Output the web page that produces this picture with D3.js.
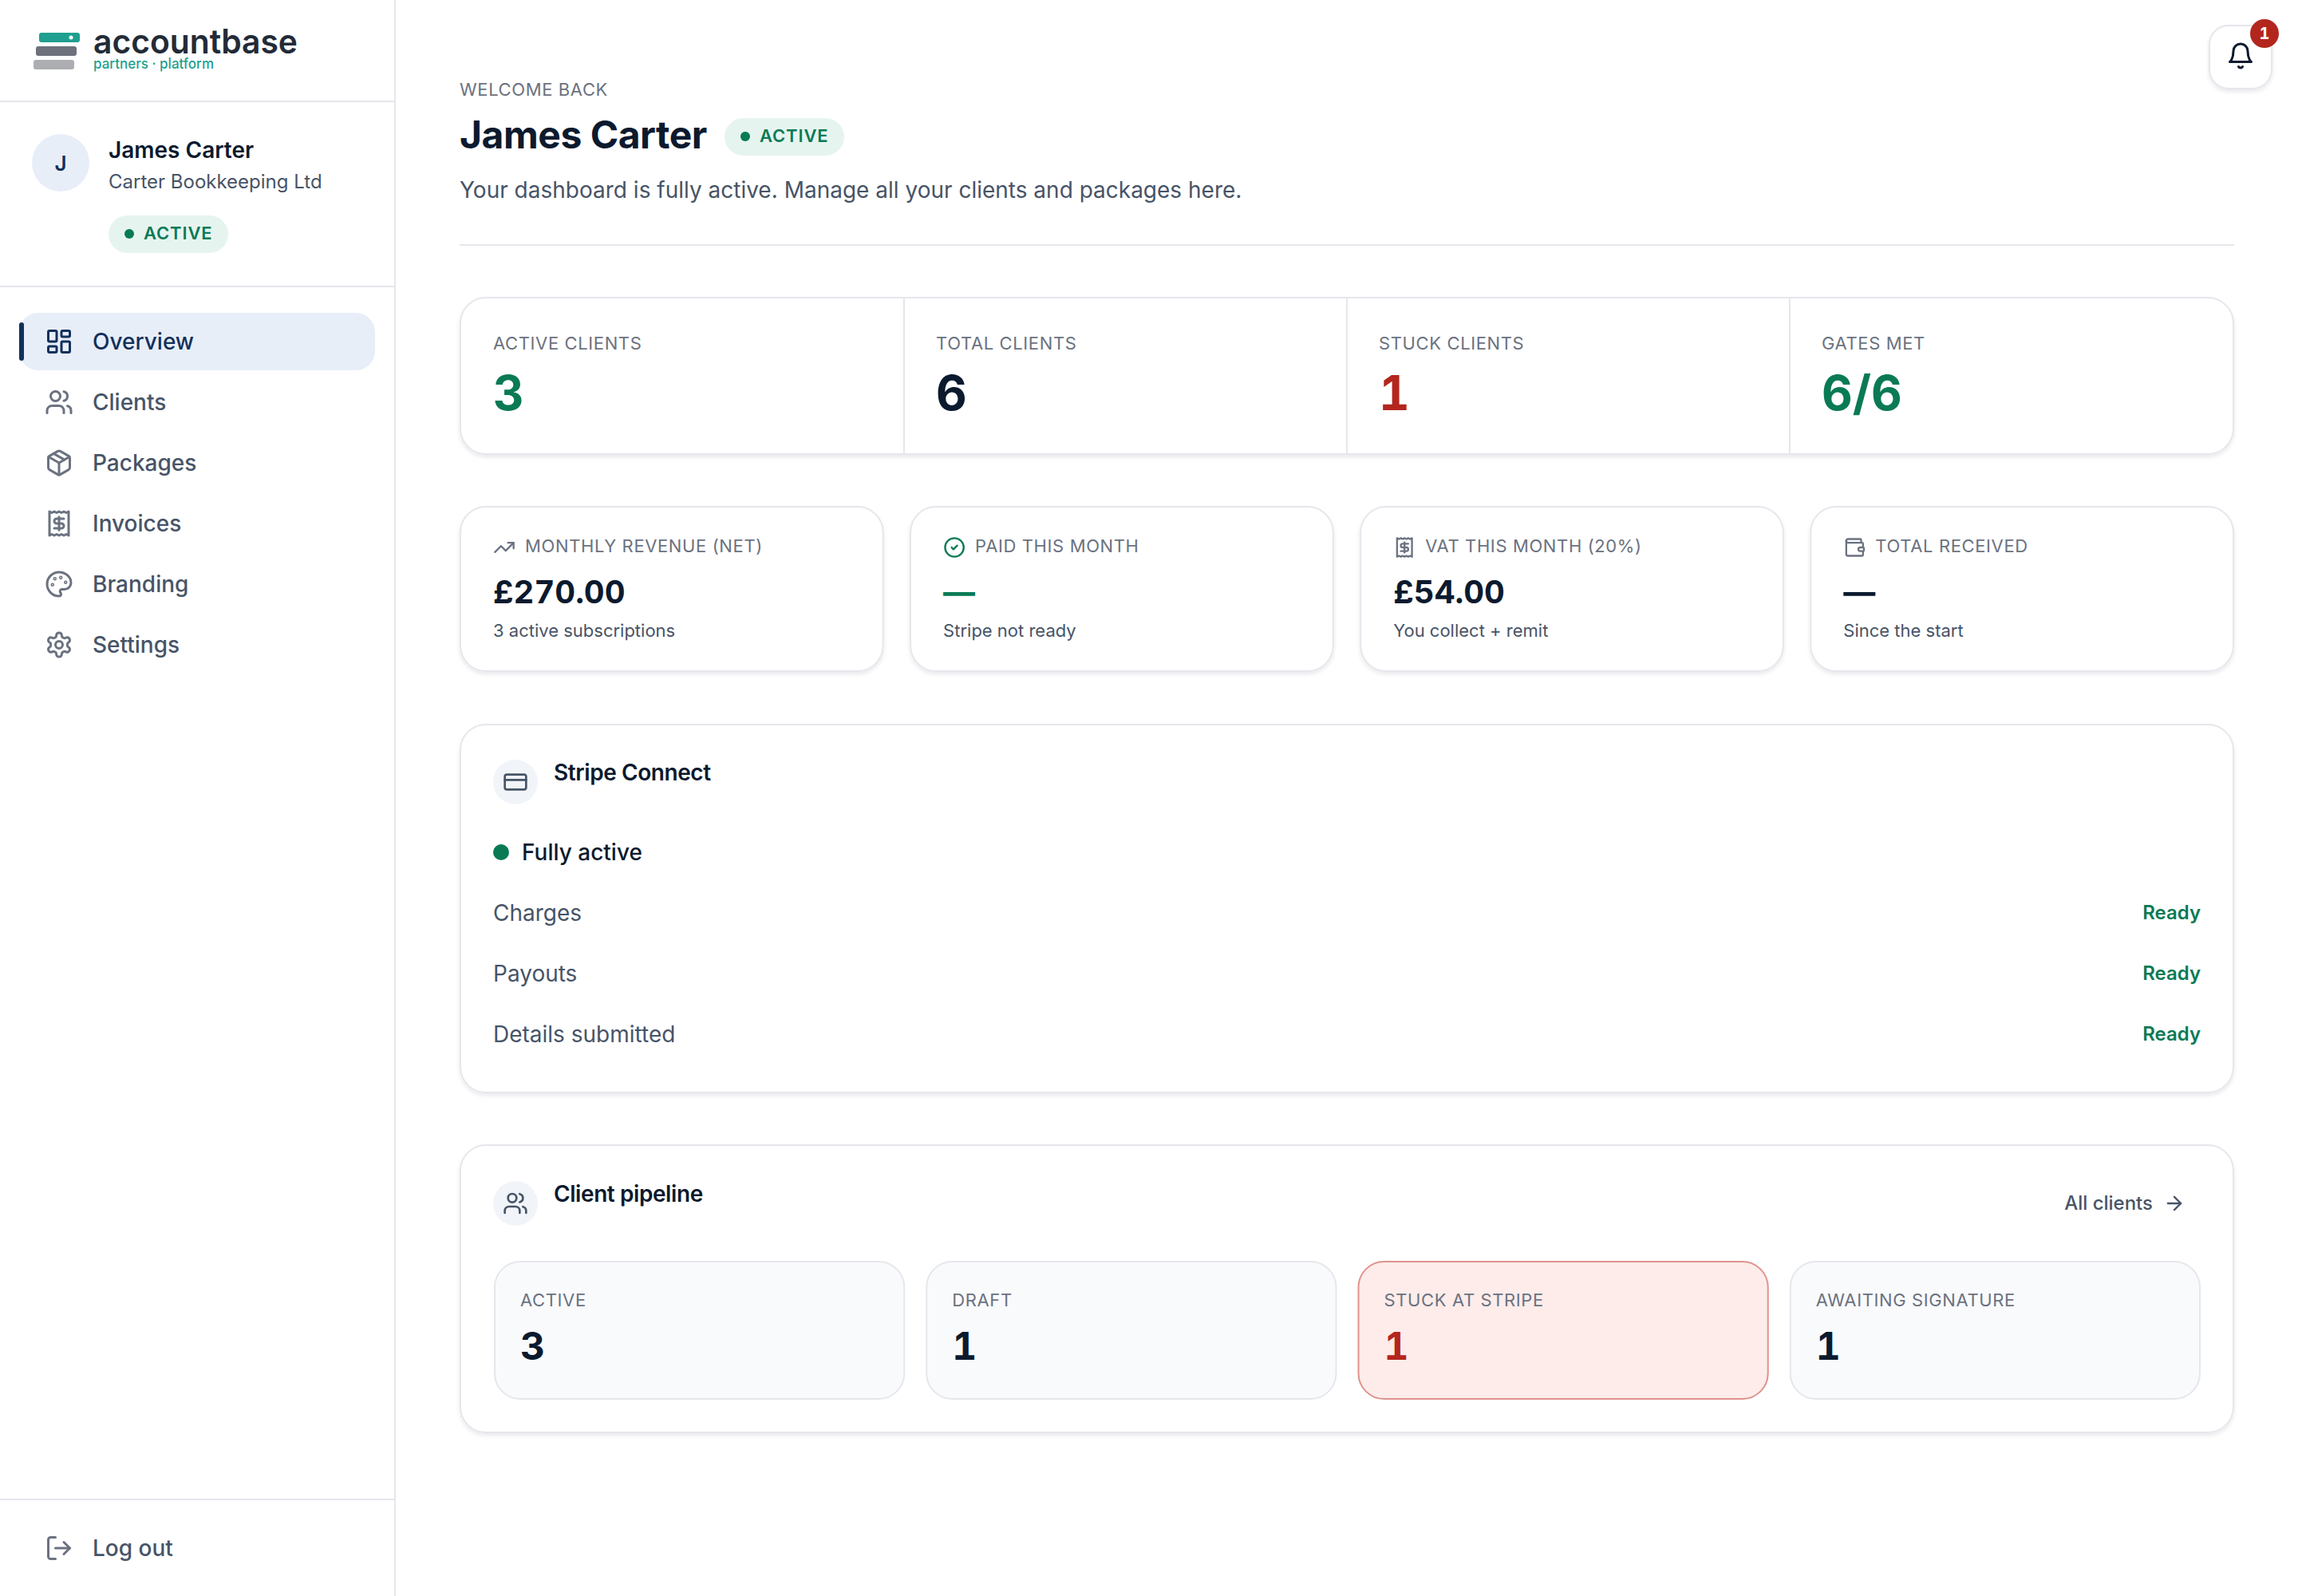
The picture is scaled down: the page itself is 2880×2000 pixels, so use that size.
<!DOCTYPE html>
<html>
<head>
<meta charset="utf-8">
<script src="https://cdn.jsdelivr.net/npm/d3@7"></script>
<style>
  html, body { margin: 0; padding: 0; background: #fff; }
  svg { display: block; }
  text { font-family: Inter, "Noto Sans", sans-serif; }
  .num { font-variant-numeric: tabular-nums; }
</style>
</head>
<body>
<div id="chart"></div>
<script>
const welcomeLabel = "WELCOME BACK";
const userName = "James Carter";
const companyName = "Carter Bookkeeping Ltd";
const statusLabel = "ACTIVE";
const introText = "Your dashboard is fully active. Manage all your clients and packages here.";

const navLabels = ["Overview", "Clients", "Packages", "Invoices", "Branding", "Settings"];
const navIcons = ["dashboard", "users", "package", "receipt", "palette", "settings"];

const summaryLabels = ["ACTIVE CLIENTS", "TOTAL CLIENTS", "STUCK CLIENTS", "GATES MET"];
const summaryValues = ["3", "6", "1", "6/6"];
const summaryTones = ["green", "navy", "red", "green"];

const metricLabels = ["MONTHLY REVENUE (NET)", "PAID THIS MONTH", "VAT THIS MONTH (20%)", "TOTAL RECEIVED"];
const metricValues = ["£270.00", "—", "£54.00", "—"];
const metricNotes = ["3 active subscriptions", "Stripe not ready", "You collect + remit", "Since the start"];
const metricTones = ["navy", "green", "navy", "navy"];
const metricIcons = ["trending", "check", "receipt", "wallet"];

const stripeRows = ["Charges", "Payouts", "Details submitted"];
const stripeStates = ["Ready", "Ready", "Ready"];

const pipelineLabels = ["ACTIVE", "DRAFT", "STUCK AT STRIPE", "AWAITING SIGNATURE"];
const pipelineValues = [3, 1, 1, 1];

const colors = {
  navy: "#0c1a2e", green: "#0a7a55", red: "#b3261e", grey: "#6b7280", body: "#475467",
  border: "#e5e7ec", greenBg: "#e6f4ef", nav: "#e7eef8", navText: "#12305a", tile: "#f9fafc",
  circle: "#f1f4f8", teal: "#1f9f8f"
};

// lucide icon outlines, 24 unit box
const iconShapes = {
  dashboard: [["rect", 3, 3, 7, 9], ["rect", 14, 3, 7, 5], ["rect", 14, 12, 7, 9], ["rect", 3, 16, 7, 5]],
  users: [["path", "M16 21v-2a4 4 0 0 0-4-4H6a4 4 0 0 0-4 4v2"], ["circle", 9, 7, 4], ["path", "M22 21v-2a4 4 0 0 0-3-3.87"], ["path", "M16 3.13a4 4 0 0 1 0 7.75"]],
  package: [["path", "m7.5 4.27 9 5.15"], ["path", "M21 8a2 2 0 0 0-1-1.73l-7-4a2 2 0 0 0-2 0l-7 4A2 2 0 0 0 3 8v8a2 2 0 0 0 1 1.73l7 4a2 2 0 0 0 2 0l7-4A2 2 0 0 0 21 16Z"], ["path", "m3.3 7 8.7 5 8.7-5"], ["path", "M12 22V12"]],
  receipt: [["path", "M4 2v20l2-1 2 1 2-1 2 1 2-1 2 1 2-1 2 1V2l-2 1-2-1-2 1-2-1-2 1-2-1-2 1Z"], ["path", "M16 8h-6a2 2 0 1 0 0 4h4a2 2 0 1 1 0 4H8"], ["path", "M12 17.5v-11"]],
  palette: [["circle", 13.5, 6.5, 0.5], ["circle", 17.5, 10.5, 0.5], ["circle", 8.5, 7.5, 0.5], ["circle", 6.5, 12.5, 0.5], ["path", "M12 2C6.5 2 2 6.5 2 12s4.5 10 10 10c.926 0 1.648-.746 1.648-1.688 0-.437-.18-.835-.437-1.125-.29-.289-.438-.652-.438-1.125a1.64 1.64 0 0 1 1.668-1.668h1.996c3.051 0 5.555-2.503 5.555-5.554C21.965 6.012 17.461 2 12 2z"]],
  settings: [["path", "M12.22 2h-.44a2 2 0 0 0-2 2v.18a2 2 0 0 1-1 1.73l-.43.25a2 2 0 0 1-2 0l-.15-.08a2 2 0 0 0-2.73.73l-.22.38a2 2 0 0 0 .73 2.73l.15.1a2 2 0 0 1 1 1.72v.51a2 2 0 0 1-1 1.74l-.15.09a2 2 0 0 0-.73 2.73l.22.38a2 2 0 0 0 2.73.73l.15-.08a2 2 0 0 1 2 0l.43.25a2 2 0 0 1 1 1.73V20a2 2 0 0 0 2 2h.44a2 2 0 0 0 2-2v-.18a2 2 0 0 1 1-1.73l.43-.25a2 2 0 0 1 2 0l.15.08a2 2 0 0 0 2.73-.73l.22-.39a2 2 0 0 0-.73-2.73l-.15-.08a2 2 0 0 1-1-1.74v-.5a2 2 0 0 1 1-1.74l.15-.09a2 2 0 0 0 .73-2.73l-.22-.38a2 2 0 0 0-2.73-.73l-.15.08a2 2 0 0 1-2 0l-.43-.25a2 2 0 0 1-1-1.73V4a2 2 0 0 0-2-2z"], ["circle", 12, 12, 3]],
  logout: [["path", "M9 21H5a2 2 0 0 1-2-2V5a2 2 0 0 1 2-2h4"], ["path", "m16 17 5-5-5-5"], ["path", "M21 12H9"]],
  bell: [["path", "M6 8a6 6 0 0 1 12 0c0 7 3 9 3 9H3s3-2 3-9"], ["path", "M10.3 21a1.94 1.94 0 0 0 3.4 0"]],
  trending: [["path", "m22 7-8.5 8.5-5-5L2 17"], ["path", "M16 7h6v6"]],
  check: [["circle", 12, 12, 10], ["path", "m9 12 2 2 4-4"]],
  wallet: [["path", "M19 7V4a1 1 0 0 0-1-1H5a2 2 0 0 0 0 4h15a1 1 0 0 1 1 1v4h-3a2 2 0 0 0 0 4h3a1 1 0 0 0 1-1v-2a1 1 0 0 0-1-1"], ["path", "M3 5v14a2 2 0 0 0 2 2h15a1 1 0 0 0 1-1v-4"]],
  card: [["rect", 2, 5, 20, 14], ["path", "M2 10h20"]],
  arrow: [["path", "M5 12h14"], ["path", "m12 5 7 7-7 7"]]
};

const svg = d3.select("#chart").append("svg")
  .attr("width", 2880)
  .attr("height", 2000)
  .attr("viewBox", "0 0 2880 2000");

const shadow = svg.append("defs").append("filter")
  .attr("id", "shadow")
  .attr("x", "-5%").attr("y", "-5%").attr("width", "110%").attr("height", "115%");
shadow.append("feDropShadow")
  .attr("dx", 0).attr("dy", 3).attr("stdDeviation", 2.5)
  .attr("flood-color", "#0c1a2e").attr("flood-opacity", 0.09);

function label(g, x, y, txt, size, weight, fill, spacing) {
  return g.append("text")
    .attr("x", x).attr("y", y)
    .attr("font-size", size)
    .attr("font-weight", weight)
    .attr("letter-spacing", spacing || 0)
    .attr("fill", fill)
    .text(txt);
}

function box(g, x, y, w, h, r, fill, stroke, useShadow) {
  const rect = g.append("rect")
    .attr("x", x + 1).attr("y", y + 1)
    .attr("width", w - 2).attr("height", h - 2)
    .attr("rx", r)
    .attr("fill", fill)
    .attr("stroke", stroke)
    .attr("stroke-width", 2);
  if (useShadow) rect.attr("filter", "url(#shadow)");
  return rect;
}

function icon(g, name, cx, cy, size, color) {
  const k = size / 24;
  const node = g.append("g")
    .attr("transform", `translate(${cx - size / 2},${cy - size / 2}) scale(${k})`)
    .attr("fill", "none")
    .attr("stroke", color)
    .attr("stroke-width", 2)
    .attr("stroke-linecap", "round")
    .attr("stroke-linejoin", "round");
  iconShapes[name].forEach(s => {
    if (s[0] === "path") node.append("path").attr("d", s[1]);
    if (s[0] === "circle") node.append("circle").attr("cx", s[1]).attr("cy", s[2]).attr("r", s[3]);
    if (s[0] === "rect") node.append("rect").attr("x", s[1]).attr("y", s[2]).attr("width", s[3]).attr("height", s[4]).attr("rx", name === "card" ? 2 : 1);
  });
}

function statusPill(g, x, y, w) {
  g.append("rect").attr("x", x).attr("y", y).attr("width", w).attr("height", 47).attr("rx", 23.5).attr("fill", colors.greenBg);
  g.append("circle").attr("cx", x + 26).attr("cy", y + 23).attr("r", 6).attr("fill", colors.green);
  label(g, x + 44, y + 30, statusLabel, 22, 600, colors.green, 0.88);
}

// Sidebar
const side = svg.append("g");
side.append("rect").attr("x", 494).attr("y", 0).attr("width", 2).attr("height", 2000).attr("fill", colors.border);
[127, 359, 1879].forEach(y => {
  side.append("rect").attr("x", 0).attr("y", y - 1).attr("width", 494).attr("height", 2).attr("fill", colors.border);
});

const logoBars = [["#1f9f8f", 49], ["#6c717b", 45], ["#adaeb1", 42]];
const logoY = d3.scalePoint().domain(d3.range(logoBars.length)).range([41, 75]);
logoBars.forEach((b, i) => {
  side.append("rect").attr("x", b[1]).attr("y", logoY(i)).attr("width", 51).attr("height", 12).attr("rx", 3).attr("fill", b[0]);
});
side.append("circle").attr("cx", 89).attr("cy", 47).attr("r", 2.5).attr("fill", "#fff");
label(side, 117, 67, "accountbase", 42, 600, "#222b38").attr("textLength", 256).attr("lengthAdjust", "spacingAndGlyphs");
label(side, 117, 86, "partners · platform", 18, 500, colors.teal).attr("textLength", 151).attr("lengthAdjust", "spacingAndGlyphs");

side.append("circle").attr("cx", 76).attr("cy", 204).attr("r", 36).attr("fill", colors.nav);
label(side, 76, 214, userName[0], 26, 600, colors.navText).attr("text-anchor", "middle");
label(side, 136, 198, userName, 28, 600, colors.navy);
label(side, 136, 236, companyName, 24, 400, colors.body);
statusPill(side, 136, 270, 150);

const navY = d3.scalePoint().domain(navLabels).range([428, 808]);
side.append("rect").attr("x", 24).attr("y", navY(navLabels[0]) - 36).attr("width", 446).attr("height", 72).attr("rx", 24).attr("fill", colors.nav);
side.append("rect").attr("x", 24).attr("y", navY(navLabels[0]) - 24).attr("width", 6).attr("height", 48).attr("rx", 3).attr("fill", colors.navText);
navLabels.forEach((d, i) => {
  const y = navY(d);
  icon(side, navIcons[i], 74, y, 36, i === 0 ? colors.navText : colors.grey);
  label(side, 116, y + 10, d, 28, 500, i === 0 ? colors.navText : colors.body);
});
icon(side, "logout", 74, 1940, 36, colors.grey);
label(side, 116, 1950, "Log out", 28, 500, colors.body);

// Page header
const main = svg.append("g");
label(main, 576, 120, welcomeLabel, 22, 400, colors.grey, 0.62);
label(main, 576, 186, userName, 48, 700, colors.navy, -0.48);
statusPill(main, 908, 148, 150);
label(main, 576, 248, introText, 28, 400, colors.body);
main.append("rect").attr("x", 576).attr("y", 306).attr("width", 2224).attr("height", 2).attr("fill", colors.border);

box(main, 2768, 31, 80, 81, 24, "#fff", colors.border, true);
icon(main, "bell", 2808, 70, 36, colors.navy);
main.append("circle").attr("cx", 2838).attr("cy", 42).attr("r", 18).attr("fill", colors.red);
label(main, 2838, 49, "1", 20, 700, "#fff").attr("text-anchor", "middle").attr("class", "num");

// Summary strip
const summaryX = d3.scaleBand().domain(summaryLabels).range([578, 2798]);
box(main, 576, 372, 2224, 198, 32, "#fff", colors.border, true);
summaryLabels.forEach((d, i) => {
  const x = summaryX(d);
  if (i > 0) main.append("rect").attr("x", x - 1).attr("y", 374).attr("width", 2).attr("height", 194).attr("fill", colors.border);
  label(main, x + 40, 438, d, 22, 400, colors.grey, 0.62);
  label(main, x + 40, 514, summaryValues[i], 60, 700, colors[summaryTones[i]]).attr("class", "num");
});

// Metric cards
const metricX = d3.scaleBand().domain(metricLabels).range([576, 2800]).paddingInner(32 / 556);
metricLabels.forEach((d, i) => {
  const x = metricX(d);
  box(main, x, 634, metricX.bandwidth(), 208, 32, "#fff", colors.border, true);
  icon(main, metricIcons[i], x + 56, 686, 28, metricIcons[i] === "check" ? colors.green : colors.grey);
  label(main, x + 82, 692, d, 22, 400, colors.grey, 0.62);
  label(main, x + 42, 756, metricValues[i], 40, 700, colors[metricTones[i]]).attr("class", "num");
  label(main, x + 42, 798, metricNotes[i], 22, 400, colors.body);
});

// Stripe Connect card
box(main, 576, 907, 2224, 463, 32, "#fff", colors.border, true);
main.append("circle").attr("cx", 646).attr("cy", 980).attr("r", 28).attr("fill", colors.circle);
icon(main, "card", 646, 980, 32, colors.body);
label(main, 694, 978, "Stripe Connect", 28, 600, colors.navy, -0.42);
main.append("circle").attr("cx", 628).attr("cy", 1068).attr("r", 10).attr("fill", colors.green);
label(main, 654, 1078, "Fully active", 28, 500, colors.navy);

const rowY = d3.scalePoint().domain(stripeRows).range([1144, 1296]);
stripeRows.forEach((d, i) => {
  label(main, 618, rowY(d) + 10, d, 28, 400, colors.body);
  label(main, 2758, rowY(d) + 8, stripeStates[i], 24, 600, colors.green).attr("text-anchor", "end");
});

// Client pipeline card
box(main, 576, 1434, 2224, 362, 32, "#fff", colors.border, true);
main.append("circle").attr("cx", 646).attr("cy", 1508).attr("r", 28).attr("fill", colors.circle);
icon(main, "users", 646, 1508, 32, colors.body);
label(main, 694, 1506, "Client pipeline", 28, 600, colors.navy, -0.42);
label(main, 2698, 1516, "All clients", 24, 500, colors.body).attr("text-anchor", "end");
icon(main, "arrow", 2725, 1508, 28, colors.body);

const tileX = d3.scaleBand().domain(pipelineLabels).range([619, 2758]).paddingInner(26 / 541);
pipelineLabels.forEach((d, i) => {
  const x = tileX(d);
  const stuck = d === "STUCK AT STRIPE";
  box(main, x, 1580, tileX.bandwidth(), 174, 32, stuck ? "#fdecea" : colors.tile, stuck ? "#e0938d" : colors.border, false);
  label(main, x + 33, 1637, d, 22, 400, colors.grey, 0.62);
  label(main, x + 33, 1704, pipelineValues[i], 48, 700, stuck ? colors.red : colors.navy).attr("class", "num");
});
</script>
</body>
</html>
